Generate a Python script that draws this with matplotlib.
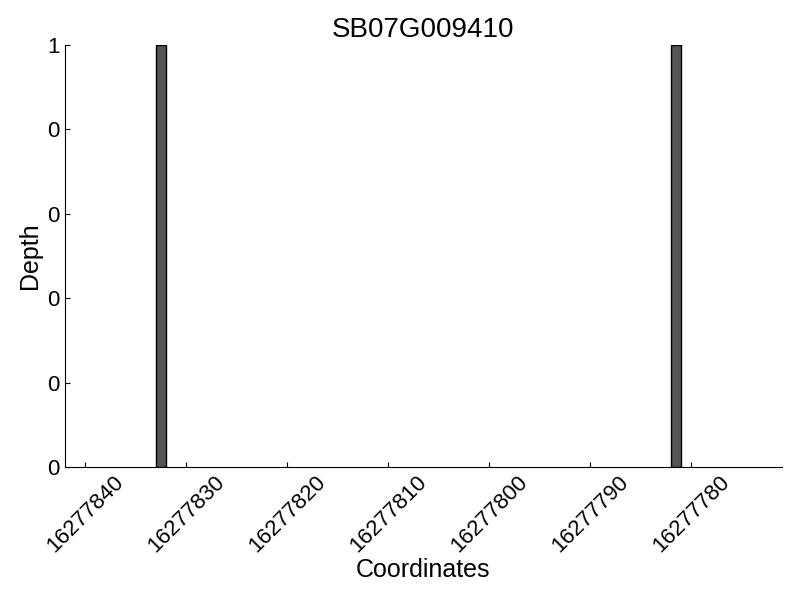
import matplotlib
matplotlib.use("Agg")
import matplotlib.pyplot as plt
from matplotlib.ticker import FormatStrFormatter

plt.rcParams['font.family'] = ['Liberation Sans', 'DejaVu Sans']

title = "SB07G009410"
positions = [16277833, 16277782]
depths = [1, 1]
xticks = [16277840, 16277830, 16277820, 16277810, 16277800, 16277790, 16277780]
yticks = [0, 0.2, 0.4, 0.6, 0.8, 1.0]

fig = plt.figure(figsize=(8, 6), dpi=100)
ax = fig.add_axes([0.081, 0.2217, 0.8965, 0.7033])

ax.bar(positions, depths, width=-1, align='edge', color='#555555',
       edgecolor='black', linewidth=1)

ax.set_xlim(16277842.0, 16277771.0)
ax.set_ylim(0, 1)
ax.set_xticks(xticks)
ax.set_xticklabels([str(v) for v in xticks], rotation=45, fontsize=16)
ax.set_yticks(yticks)
ax.yaxis.set_major_formatter(FormatStrFormatter('%d'))
ax.tick_params(axis='y', labelsize=16)
ax.tick_params(direction='in', top=False, right=False)

ax.spines['top'].set_visible(False)
ax.spines['right'].set_visible(False)

ax.set_title(title, fontsize=20)
ax.set_xlabel("Coordinates", fontsize=18, labelpad=0.5)
ax.set_ylabel("Depth", fontsize=18)

fig.savefig("out.png")
